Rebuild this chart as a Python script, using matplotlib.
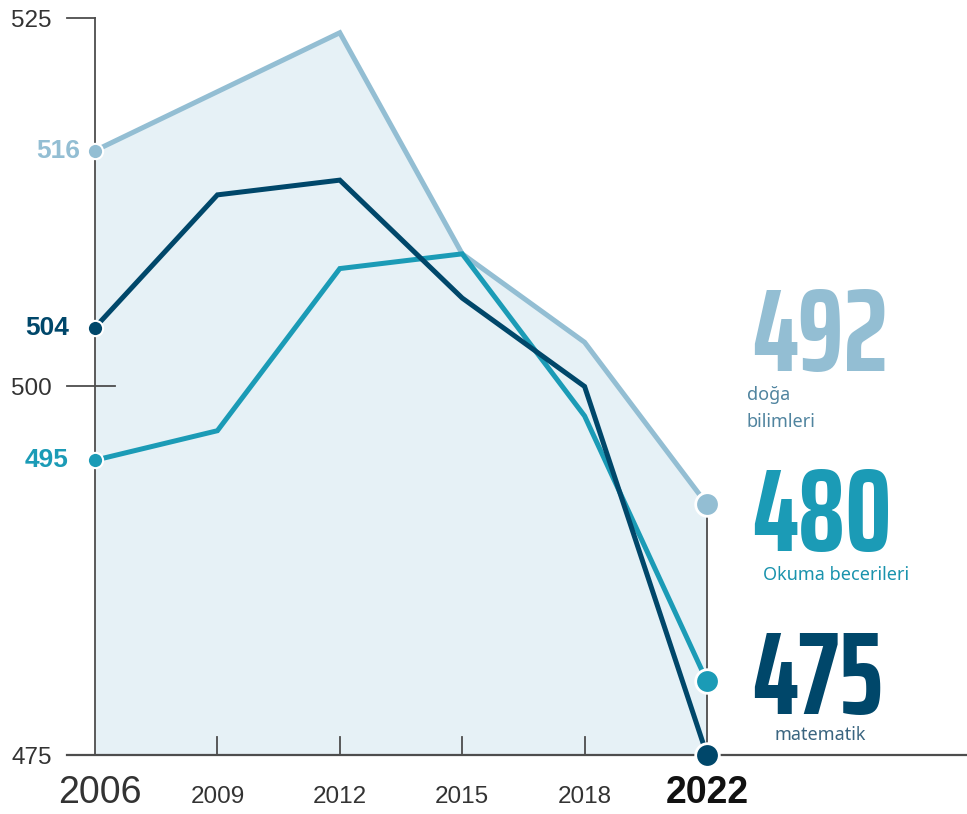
import matplotlib.pyplot as plt

years = ['2006', '2009', '2012', '2015', '2018', '2022']
science = [516, 520, 524, 509, 503, 492]
reading = [495, 497, 508, 509, 498, 480]
math = [504, 513, 514, 506, 500, 475]
yticks = [475, 500, 525]
series_names = ['doğa\nbilimleri', 'Okuma becerileri', 'matematik']

c_sci = '#93bed3'
c_read = '#1b9bb6'
c_math = '#00476a'
c_fill = '#e6f1f6'
c_axis = '#4d4d4d'

fig = plt.figure(figsize=(9.67, 8.14), dpi=100)
ax = fig.add_axes([0, 0, 1, 1])
ax.set_xlim(-0.7761, 7.1242)
ax.set_ylim(470.997, 526.221)
ax.axis('off')

x = list(range(len(years)))
px = 1 / 122.4     # one pixel in x data units
py = 1 / 14.74     # one pixel in y data units

# shaded area under science line
ax.fill_between(x, science, 475, color=c_fill, lw=0, zorder=1)

# axes lines
ax.plot([0, 0], [475, 525], color=c_axis, lw=1.3, zorder=2)
ax.plot([-28 * px, 0], [525, 525], color=c_axis, lw=1.3, zorder=2)
ax.plot([-28 * px, 20 * px], [500, 500], color=c_axis, lw=1.3, zorder=2)
ax.plot([-28 * px, 7.2], [475, 475], color=c_axis, lw=1.6, zorder=2)
for i in x[1:-1]:
    ax.plot([i, i], [475, 475 + 18 * py], color=c_axis, lw=1.3, zorder=2)
ax.plot([x[-1], x[-1]], [475, science[-1]], color=c_axis, lw=1.3, zorder=2)

for t in yticks:
    ax.text(-43 * px, t - 9 * py, str(t), ha='right', va='baseline',
            fontsize=17.5, color='#333333', family='Liberation Sans')

# year labels
for i, yr in zip(x, years):
    big = i in (0, len(years) - 1)
    ax.text(i + (5 * px if i == 0 else 0), 475 - 48 * py, yr, ha='center', va='baseline',
            fontsize=27 if big else 17.5,
            weight='bold' if i == len(years) - 1 else 'normal',
            color='#111111' if i == len(years) - 1 else '#333333',
            family='Liberation Sans')

# lines
for vals, col in [(science, c_sci), (reading, c_read), (math, c_math)]:
    ax.plot(x, vals, color=col, lw=3.6, solid_joinstyle='miter', zorder=4)
    ax.plot(x[0], vals[0], 'o', ms=11, color=col, mec='white', mew=1.5, zorder=5)
    ax.plot(x[-1], vals[-1], 'o', ms=17, color=col, mec='white', mew=2, zorder=5)

# start value labels
start_right = [80, 69, 69]
for vals, col, r in zip([science, math, reading], [c_sci, c_math, c_read], start_right):
    ax.text((r - 95) * px, vals[0], str(vals[0]), ha='right', va='center',
            fontsize=19, weight='bold', color=col, family='Liberation Sans')

# big end values
for vals, col, base in [(science, c_sci, 371), (reading, c_read, 551), (math, c_math, 714)]:
    ax.text((752 - 95) * px, 525 - (base - 18) * py, str(vals[-1]), ha='left', va='baseline',
            fontsize=84, weight='bold', color=col, family=['Saira ExtraCondensed', 'DejaVu Sans'])

# series captions
cap_font = 'Noto Sans'
ax.text((747 - 95) * px, 525 - (400 - 18) * py, 'doğa', ha='left', va='baseline',
        fontsize=13, color='#50849f', family=cap_font)
ax.text((747 - 95) * px, 525 - (427 - 18) * py, 'bilimleri', ha='left', va='baseline',
        fontsize=13, color='#50849f', family=cap_font)
ax.text((763 - 95) * px, 525 - (580 - 18) * py, series_names[1], ha='left', va='baseline',
        fontsize=13, color='#1a93ad', family=cap_font)
ax.text((775 - 95) * px, 525 - (740 - 18) * py, series_names[2], ha='left', va='baseline',
        fontsize=13, color='#3a6580', family=cap_font)

fig.savefig('out.png', dpi=100)
